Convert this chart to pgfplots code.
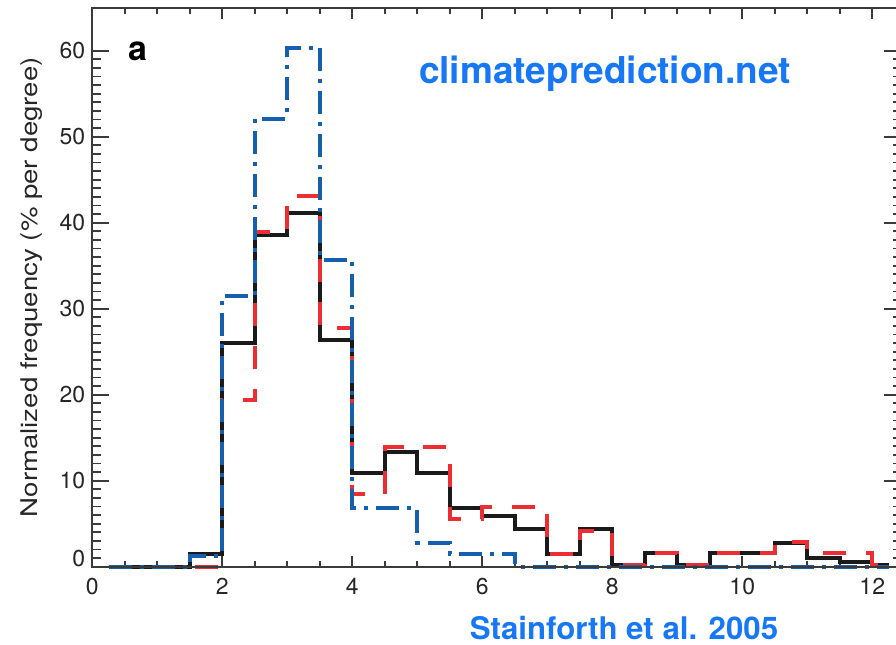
\documentclass[border=0pt]{standalone}
\usepackage{pgfplots}
\pgfplotsset{compat=1.18}
\usepackage{fontspec}
\setmainfont{TeX Gyre Heros}
\usepackage{graphicx}
\definecolor{axgray}{HTML}{3A3A3A}
\definecolor{cpblack}{HTML}{1A1A1A}
\definecolor{cpred}{HTML}{EC2D32}
\definecolor{cpblue}{HTML}{155FAE}
\definecolor{txtblue}{HTML}{1677F7}
\pgfplotsset{
  common/.style={
    at={(0,0)}, anchor=south west, scale only axis,
    width=404.6pt, height=279.5pt,
    xmin=0, xmax=12.45, ymin=0, ymax=65,
    axis line style={draw=axgray, line width=0.85pt},
    every tick/.style={draw=axgray, line width=0.85pt},
    tick align=inside, tick pos=both,
    ticklabel style={font=\fontsize{11.5}{13}\selectfont, text=black!85},
    /pgf/number format/assume math mode=true,
  }
}
\begin{document}
\begin{tikzpicture}
\begin{axis}[common,
  xtick={0,2,4,6,8,10,12}, minor x tick num=3, ytick=\empty,
  major tick length=5.5pt, minor tick length=3pt,
  xticklabel style={yshift=-2pt},
  clip=false]
% black: solid
\addplot[cpblack, line width=2pt, const plot mark left] coordinates {
(0.25,0) (1.5,1.5) (2,26.0) (2.5,38.6) (3,41.1) (3.5,26.4) (4,10.85) (4.5,13.3)
(5,10.85) (5.5,6.86) (6,5.93) (6.5,4.4) (7,1.47) (7.5,4.42) (8,0.2) (8.5,1.55)
(9,0.2) (9.5,1.55) (10,1.55) (10.5,2.7) (11,1.05) (11.5,0.55) (12,0.2) (12.25,0.2)};
% red: dashed
\addplot[cpred, line width=2pt, dash pattern=on 11.5pt off 10pt, const plot mark left] coordinates {
(0.25,0) (1.5,0) (2,19.4) (2.5,38.9) (3,43.1) (3.5,27.8) (4,8.4) (4.5,13.95)
(5,13.9) (5.5,5.58) (6,6.98) (6.5,6.98) (7,1.47) (7.5,4.1) (8,0.2) (8.5,1.55)
(9,0.2) (9.5,1.55) (10,1.55) (10.5,2.9) (11,1.55) (11.5,1.55) (12,0.2) (12.25,0.2)};
% blue: dash-dot
\addplot[cpblue, line width=2pt, dash pattern=on 11.5pt off 4pt on 2pt off 4pt, const plot mark left] coordinates {
(0.25,0) (1.5,1.3) (2,31.5) (2.5,52.1) (3,60.35) (3.5,35.7) (4,6.82) (4.5,6.82)
(5,2.8) (5.5,1.44) (6,1.44) (6.5,0) (7,0) (7.5,0) (8,0) (8.5,0) (9,0) (9.5,0)
(10,0) (10.5,0) (11,0) (11.5,0) (12,0) (12.25,0)};
\node[font=\fontsize{17}{17}\selectfont\bfseries, anchor=base, text=black] at (axis cs:0.70,58.9) {a};
\node[font=\fontsize{18.5}{20}\selectfont\bfseries, anchor=base, text=txtblue] at (axis cs:7.89,56.2) {climateprediction.net};
\node[font=\fontsize{15.6}{17}\selectfont\bfseries, anchor=base, text=txtblue] at (axis cs:8.18,-8.52) {Stainforth et al. 2005};
\end{axis}
\begin{axis}[common, xtick=\empty,
  ytick={0,10,20,30,40,50,60},
  yticklabels={\smash{0},10,20,30,40,50,60},
  minor y tick num=9,
  major tick length=8.5pt, minor tick length=4.3pt,
  ylabel={\scalebox{1.2}[1]{Normalized frequency (\% per degree)}},
  ylabel style={font=\fontsize{11.5}{13}\selectfont, text=black!85,
    at={(axis description cs:-0.075,0.5)}, anchor=center}]
\end{axis}
\pgfresetboundingbox
\useasboundingbox (-46.15pt,-38.65pt) rectangle (401.85pt,283.35pt);
\end{tikzpicture}
\end{document}
